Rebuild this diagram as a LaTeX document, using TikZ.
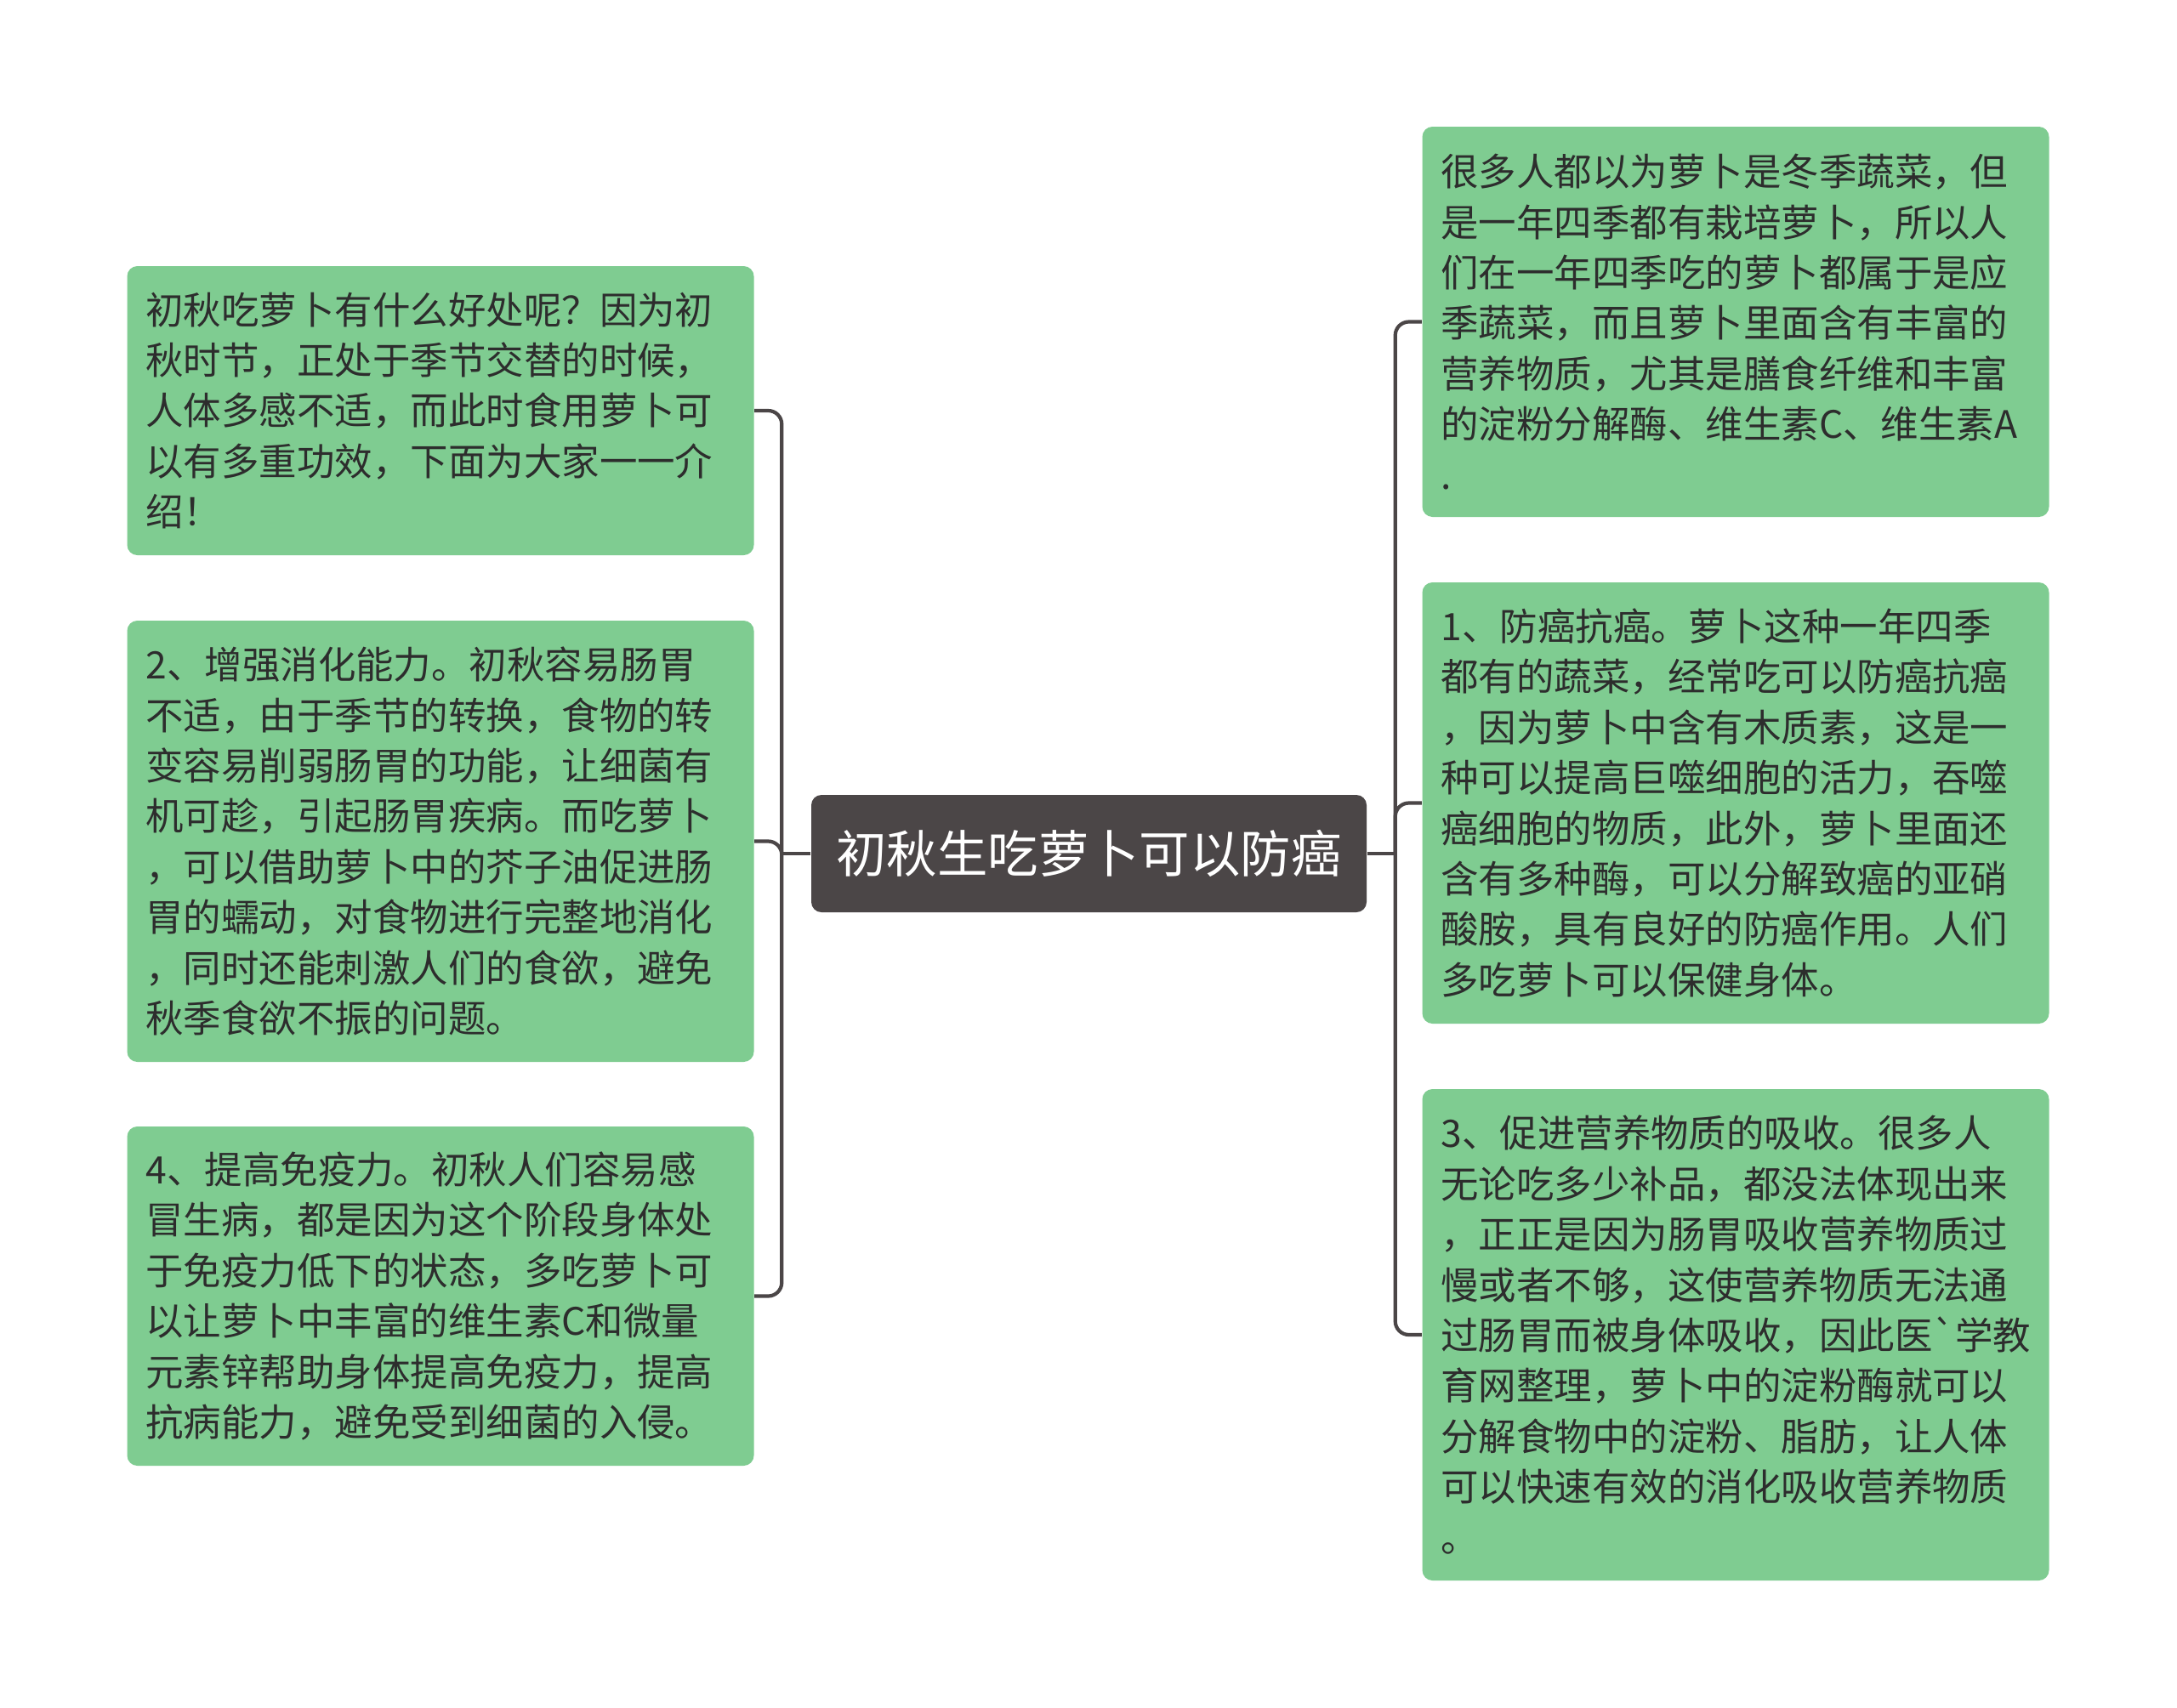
\documentclass[tikz,border=0pt]{standalone}
\usepackage{fontspec}
\usepackage{xcolor}
\usepackage{tikz}
\usetikzlibrary{positioning}
\newfontfamily\cjkfont[Ligatures=TeXOff]{Noto Sans CJK SC}
\definecolor{leafgreen}{RGB}{127,204,145}
\definecolor{rootgray}{RGB}{75,70,71}
\definecolor{inkgray}{RGB}{45,45,45}

\begin{document}
\begin{tikzpicture}[
    every node/.style={font=\cjkfont},
    topic/.style={fill=rootgray, rounded corners=0.12cm, minimum width=6.53cm, minimum height=1.38cm, align=center, text=white, font=\cjkfont\fontsize{16.9pt}{20pt}\selectfont},
    leaf/.style={fill=leafgreen, rounded corners=0.12cm, text width=6.93cm, inner xsep=0.22cm, inner ysep=0pt, align=left, text=inkgray, font=\cjkfont\fontsize{12.65pt}{16.9pt}\selectfont},
    link/.style={draw=rootgray, line width=1.2pt, rounded corners=0.16cm},
]

    % canvas
    \fill[white] (0,0) rectangle (25.6,-20.09);

    % 1. Central topic
    \node[topic] (root_topic) at (12.805,-10.04) {初秋生吃萝卜可以防癌};

    % 2. Left branches
    \node[leaf, minimum height=3.40cm] (left_intro) at (5.18,-4.83) {初秋吃萝卜有什么好处呢？因为初\\秋时节，正处于季节交替的时候，\\人体多感不适，而此时食用萝卜可\\以有多重功效，下面为大家一一介\\绍！};
    \node[leaf, minimum height=5.19cm] (left_digest) at (5.18,-9.895) {2、增强消化能力。初秋容易肠胃\\不适，由于季节的转换，食物的转\\变容易削弱肠胃的功能，让细菌有\\机可趁，引起肠胃疾病。而吃萝卜\\，可以借助萝卜中的芥子油促进肠\\胃的蠕动，对食物进行完整地消化\\，同时还能刺激人们的食欲，避免\\秋季食欲不振的问题。};
    \node[leaf, minimum height=3.99cm] (left_immune) at (5.18,-15.245) {4、提高免疫力。初秋人们容易感\\冒生病，都是因为这个阶段身体处\\于免疫力低下的状态，多吃萝卜可\\以让萝卜中丰富的维生素C和微量\\元素锌帮助身体提高免疫力，提高\\抗病能力，避免受到细菌的入侵。};

    % 3. Right branches
    \node[leaf, minimum height=4.59cm] (right_season) at (20.41,-3.785) {很多人都以为萝卜是冬季蔬菜，但\\是一年四季都有栽培萝卜，所以人\\们在一年四季吃的萝卜都属于是应\\季蔬菜，而且萝卜里面含有丰富的\\营养物质，尤其是膳食纤维和丰富\\的淀粉分解酶、维生素C、维生素A\\.};
    \node[leaf, minimum height=5.19cm] (right_cancer) at (20.41,-9.445) {1、防癌抗癌。萝卜这种一年四季\\都有的蔬菜，经常吃可以防癌抗癌\\，因为萝卜中含有木质素，这是一\\种可以提高巨噬细胞的活力，吞噬\\癌细胞的物质，此外，萝卜里面还\\含有多种酶，可以分解致癌的亚硝\\酸胺，具有良好的防癌作用。人们\\多吃萝卜可以保健身体。};
    \node[leaf, minimum height=5.78cm] (right_absorb) at (20.41,-15.70) {3、促进营养物质的吸收。很多人\\无论吃多少补品，都没法体现出来\\，正正是因为肠胃吸收营养物质过\\慢或者不够，这使营养物质无法通\\过肠胃而被身体吸收，因此医`学教\\育网整理，萝卜中的淀粉酶就可以\\分解食物中的淀粉、脂肪，让人体\\可以快速有效的消化吸收营养物质\\。};

    % --- Connections ---
    \coordinate[left=0.34cm of root_topic.west] (left_hub);
    \coordinate[right=0.33cm of root_topic.east] (right_hub);

    \draw[link] (root_topic.west) -- (left_hub);
    \draw[link] (left_hub) |- (left_intro.east);
    \draw[link] (left_hub) |- (left_digest.east);
    \draw[link] (left_hub) |- (left_immune.east);

    \draw[link] (root_topic.east) -- (right_hub);
    \draw[link] (right_hub) |- (right_season.west);
    \draw[link] (right_hub) |- (right_cancer.west);
    \draw[link] (right_hub) |- (right_absorb.west);

\end{tikzpicture}
\end{document}
